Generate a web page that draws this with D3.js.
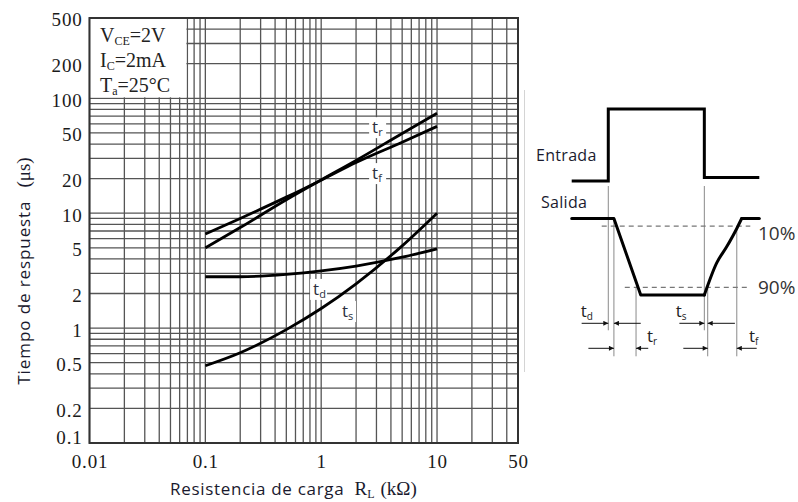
<!DOCTYPE html>
<html>
<head>
<meta charset="utf-8">
<script src="https://cdn.jsdelivr.net/npm/d3@7"></script>
<style>
  body { margin: 0; background: #fff; }
  svg { display: block; }
</style>
</head>
<body>
<svg id="canvas" width="798" height="502"></svg>
<script>
"use strict";

// chart values
const xTicks = [0.01, 0.1, 1, 10, 50];
const yTicks = [0.1, 0.2, 0.5, 1, 2, 5, 10, 20, 50, 100, 200, 500];
const loadRes = [0.1, 0.2, 0.5, 1, 2, 5, 10];
const tRise = [5.0, 7.5, 13.1, 19.5, 28.8, 49.4, 74];
const tFall = [6.6, 9.0, 13.8, 19.4, 27.6, 41.5, 57];
const tDelay = [2.8, 2.8, 2.94, 3.15, 3.47, 4.14, 4.9];
const tStorage = [0.47, 0.61, 0.97, 1.48, 2.43, 5.2, 10];

const curveNames = ["r", "f", "d", "s"];
const labelRes = [3.04, 3.04, 0.94, 1.67];
const labelTime = [55, 21.9, 2.15, 1.38];

const condMain = ["V", "I", "T"];
const condSub = ["CE", "C", "a"];
const condValue = ["=2V", "=2mA", "=25°C"];

// timing diagram (time in % of the sketch width, levels 0..1)
const inputT = [0, 19.5, 19.5, 70.7, 70.7, 100];
const inputV = [0, 0, 1, 1, 0.05, 0.05];
const outputT = [0, 22.5, 36.8, 70.7, 77.3, 82.6, 88, 90.6, 100];
const outputV = [0, 0, 1, 1, 0.58, 0.37, 0.13, 0, 0];
const markT = [19.5, 22.5, 34.3, 70.7, 72.5, 88];
const arrowFrom = [5.3, 36.8, 57.4, 87, 8.9, 40.8, 59.5, 98.6];
const arrowTo = [19.5, 22.5, 70.7, 72.5, 22.5, 34.3, 72.5, 88];
const arrowRow = [0, 0, 0, 0, 1, 1, 1, 1];
const timeNames = ["d", "s", "r", "f"];
const timeNameT = [8, 58.6, 43.3, 97.7];
const timeNameRow = [0, 0, 1, 1];

const SERIF = "'Liberation Serif', 'Times New Roman', serif";
const SANS = "'Open Sans', 'Noto Sans', sans-serif";

const svg = d3.select("#canvas");

const x = d3.scaleLog().domain([0.01, 50]).range([89.5, 518]);
const y = d3.scaleLog().domain([0.1, 500]).range([443, 18]);

// grid
const grid = svg.append("g").attr("stroke", "#555").attr("stroke-width", 1.3);
grid.selectAll(".vx")
  .data(x.ticks())
  .enter()
  .append("line")
  .attr("x1", (d) => x(d)).attr("x2", (d) => x(d))
  .attr("y1", y(0.1)).attr("y2", y(500));
grid.selectAll(".hy")
  .data(y.ticks())
  .enter()
  .append("line")
  .attr("y1", (d) => y(d)).attr("y2", (d) => y(d))
  .attr("x1", x(0.01)).attr("x2", x(50));

// conditions box hides the grid in the top left corner
svg.append("rect")
  .attr("x", x(0.01))
  .attr("y", y(500))
  .attr("width", x(0.07) - x(0.01) - 1)
  .attr("height", y(100) - y(500) - 1)
  .attr("fill", "#fff");

const cond = svg.append("g")
  .attr("font-family", SERIF)
  .attr("font-size", 20)
  .attr("fill", "#222");
condMain.forEach((m, i) => {
  const t = cond.append("text")
    .attr("x", 100)
    .attr("y", 42 + i * 25);
  t.append("tspan").text(m);
  t.append("tspan").attr("font-size", 12).attr("dy", 3).text(condSub[i]);
  t.append("tspan").attr("dy", -3).text(condValue[i]);
});

// frame
svg.append("rect")
  .attr("x", x(0.01)).attr("y", y(500))
  .attr("width", x(50) - x(0.01))
  .attr("height", y(0.1) - y(500))
  .attr("fill", "none")
  .attr("stroke", "#333")
  .attr("stroke-width", 2);

// curves
const line = d3.line()
  .x((d) => x(d[0]))
  .y((d) => y(d[1]))
  .curve(d3.curveMonotoneX);

[tRise, tFall, tDelay, tStorage].forEach((series) => {
  svg.append("path")
    .datum(loadRes.map((r, i) => [r, series[i]]))
    .attr("d", line)
    .attr("fill", "none")
    .attr("stroke", "#000")
    .attr("stroke-width", 2.8);
});

// curve labels with white patches behind them
curveNames.forEach((n, i) => {
  const cx = x(labelRes[i]);
  const cy = y(labelTime[i]);
  svg.append("rect")
    .attr("x", cx - 8).attr("y", cy - 11)
    .attr("width", 17).attr("height", 21)
    .attr("fill", "#fff");
  const t = svg.append("text")
    .attr("x", cx - 5)
    .attr("y", cy + 5)
    .attr("font-family", SANS)
    .attr("font-size", 17)
    .attr("fill", "#2c3040");
  t.append("tspan").text("t");
  t.append("tspan").attr("font-size", 11).attr("dy", 3).text(n);
});

// axes
const xAxis = svg.append("g")
  .attr("transform", `translate(0,${y(0.1)})`)
  .call(d3.axisBottom(x).tickValues(xTicks).tickSize(0).tickFormat((d) => String(d)));
xAxis.select(".domain").remove();
xAxis.selectAll("text")
  .attr("y", 25)
  .attr("dy", 0)
  .attr("font-family", SERIF)
  .attr("font-size", 19)
  .attr("letter-spacing", 0.8)
  .attr("fill", "#1a1a1a");

const yAxis = svg.append("g")
  .attr("transform", `translate(${x(0.01)},0)`)
  .call(d3.axisLeft(y).tickValues(yTicks).tickSize(0).tickFormat((d) => String(d)));
yAxis.select(".domain").remove();
yAxis.selectAll("text")
  .attr("x", -7)
  .attr("dy", (d) => (d === 0.1 ? "0.0em" : "0.42em"))
  .attr("font-family", SERIF)
  .attr("font-size", 19)
  .attr("letter-spacing", 0.8)
  .attr("fill", "#1a1a1a");

// axis titles
const yTitle = svg.append("text")
  .attr("transform", "translate(30,271) rotate(-90)")
  .attr("text-anchor", "middle")
  .attr("fill", "#1a1a2e")
  .attr("font-size", 17);
yTitle.append("tspan").attr("font-family", SANS).attr("letter-spacing", 0.9).text("Tiempo de respuesta");
yTitle.append("tspan").attr("font-family", SERIF).attr("font-size", 19).attr("dx", 13).text("(μs)");

const xTitle = svg.append("text")
  .attr("x", 170)
  .attr("y", 495)
  .attr("fill", "#1a1a2e")
  .attr("font-size", 17);
xTitle.append("tspan").attr("font-family", SANS).attr("letter-spacing", 0.7).text("Resistencia de carga");
xTitle.append("tspan").attr("font-family", SERIF).attr("font-size", 19).attr("dx", 10).text("R");
xTitle.append("tspan").attr("font-family", SERIF).attr("font-size", 12).attr("dy", 3).text("L");
xTitle.append("tspan").attr("font-family", SERIF).attr("font-size", 19).attr("dy", -3).attr("dx", 6).text("(kΩ)");

// timing diagram
const tScale = d3.scaleLinear().domain([0, 100]).range([571.7, 759.3]);
const inLevel = d3.scaleLinear().domain([0, 1]).range([181, 109]);
const outLevel = d3.scaleLinear().domain([0, 1]).range([218.5, 295]);
const rowY = [323.3, 348.3];

const sketch = svg.append("g");

// thin border line left of the sketch
sketch.append("line")
  .attr("x1", 524.5).attr("x2", 524.5)
  .attr("y1", 90).attr("y2", 372)
  .attr("stroke", "#d4d4d4")
  .attr("stroke-width", 1);

sketch.selectAll(".mark")
  .data(markT)
  .enter()
  .append("line")
  .attr("x1", (d) => tScale(d)).attr("x2", (d) => tScale(d))
  .attr("y1", (d, i) => [inLevel(0) + 5, outLevel(0) - 1, outLevel(0.9), inLevel(0) + 5, outLevel(0.9), outLevel(0.1)][i])
  .attr("y2", (d, i) => (i === 0 || i === 3 ? rowY[0] + 7 : rowY[1] + 8))
  .attr("stroke", "#8a8a8a")
  .attr("stroke-width", 1);

[0.1, 0.9].forEach((lv, i) => {
  sketch.append("line")
    .attr("x1", tScale(i === 0 ? 16 : 28.3))
    .attr("x2", tScale(95.2))
    .attr("y1", outLevel(lv)).attr("y2", outLevel(lv))
    .attr("stroke", "#777")
    .attr("stroke-width", 1.2)
    .attr("stroke-dasharray", "5,4");
});

sketch.append("path")
  .datum(inputT.map((t, i) => [t, inputV[i]]))
  .attr("d", d3.line().x((d) => tScale(d[0])).y((d) => inLevel(d[1])))
  .attr("fill", "none")
  .attr("stroke", "#000")
  .attr("stroke-width", 3);

// output: straight fall, smooth rise
const outPts = outputT.map((t, i) => [t, outputV[i]]);
const sketchLine = d3.line().x((d) => tScale(d[0])).y((d) => outLevel(d[1]));
[[0, 4, d3.curveLinear], [3, 8, d3.curveMonotoneX], [7, 9, d3.curveLinear]].forEach(([a, b, c]) => {
  sketch.append("path")
    .datum(outPts.slice(a, b))
    .attr("d", sketchLine.curve(c))
    .attr("fill", "none")
    .attr("stroke", "#000")
    .attr("stroke-width", 3)
    .attr("stroke-linejoin", "round")
    .attr("stroke-linecap", "round");
});

svg.append("defs").append("marker")
  .attr("id", "head")
  .attr("viewBox", "0 0 10 10")
  .attr("refX", 10).attr("refY", 5)
  .attr("markerWidth", 6).attr("markerHeight", 5)
  .attr("markerUnits", "userSpaceOnUse")
  .attr("orient", "auto")
  .append("path")
  .attr("d", "M0,0L10,5L0,10Z")
  .attr("fill", "#111");

arrowFrom.forEach((f, i) => {
  sketch.append("line")
    .attr("x1", tScale(f)).attr("x2", tScale(arrowTo[i]))
    .attr("y1", rowY[arrowRow[i]]).attr("y2", rowY[arrowRow[i]])
    .attr("stroke", "#111")
    .attr("stroke-width", 1)
    .attr("marker-end", "url(#head)");
});

timeNames.forEach((n, i) => {
  const t = sketch.append("text")
    .attr("x", tScale(timeNameT[i]) - 6)
    .attr("y", rowY[timeNameRow[i]] - 6)
    .attr("font-family", SANS)
    .attr("font-size", 17)
    .attr("fill", "#222");
  t.append("tspan").text("t");
  t.append("tspan").attr("font-size", 10).attr("dy", 3).text(n);
});

const words = sketch.append("g")
  .attr("font-family", SANS)
  .attr("fill", "#1a1a2e");
words.append("text").attr("x", 536).attr("y", 161).attr("font-size", 16).attr("letter-spacing", 0.3).text("Entrada");
words.append("text").attr("x", 541).attr("y", 208).attr("font-size", 16).attr("letter-spacing", 0.3).text("Salida");
words.append("text").attr("x", 758).attr("y", 240).attr("font-size", 19).attr("fill", "#333").text("10%");
words.append("text").attr("x", 758).attr("y", 294).attr("font-size", 19).attr("fill", "#333").text("90%");
</script>
</body>
</html>
